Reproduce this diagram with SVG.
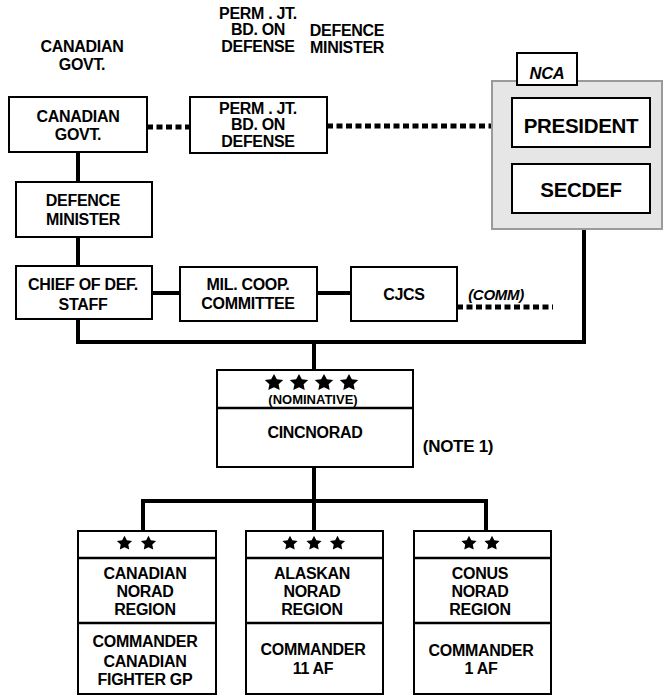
<svg xmlns="http://www.w3.org/2000/svg" width="663" height="696" viewBox="0 0 663 696">
<style>
.box{fill:#fff;stroke:#000;stroke-width:2}
.t{font-family:"Liberation Sans",Arial,sans-serif;font-weight:bold;font-size:16px;letter-spacing:-0.3px;text-anchor:middle;fill:#000}
.big{font-size:20.5px}
.it{font-style:italic}
.sm{font-size:13px;letter-spacing:0}
.solid{stroke:#000;stroke-width:4;fill:none}
.dot{stroke:#000;stroke-width:5;fill:none;stroke-dasharray:6 3.5}
.div{stroke:#000;stroke-width:2.5}
</style>
<defs>
<path id="star" d="M0,-10 L2.939,-4.045 L9.511,-3.09 L4.756,1.545 L5.878,8.09 L0,5 L-5.878,8.09 L-4.756,1.545 L-9.511,-3.09 L-2.939,-4.045 Z" fill="#000"/>
</defs>

<g id="labels">
<text class="t"><tspan x="82" y="52">CANADIAN</tspan><tspan x="82" y="70">GOVT.</tspan></text>
<text class="t"><tspan x="258" y="19">PERM . JT.</tspan><tspan x="258" y="35">BD. ON</tspan><tspan x="258" y="52">DEFENSE</tspan></text>
<text class="t"><tspan x="347" y="36">DEFENCE</tspan><tspan x="347" y="53">MINISTER</tspan></text>
</g>

<g id="connectors">
<line class="dot" x1="147" y1="127" x2="190" y2="127"/>
<line class="dot" x1="327" y1="126" x2="492" y2="126"/>
<line class="dot" x1="457" y1="307" x2="553" y2="307"/>
<line class="solid" x1="78" y1="152" x2="78" y2="182"/>
<line class="solid" x1="78" y1="237" x2="78" y2="266"/>
<polyline class="solid" points="78,319 78,342 584,342 584,229"/>
<line class="solid" x1="152" y1="293" x2="180" y2="293"/>
<line class="solid" x1="317" y1="293" x2="351" y2="293"/>
<line class="solid" x1="314" y1="342" x2="314" y2="370"/>
<line class="solid" x1="314" y1="467" x2="314" y2="531"/>
<polyline class="solid" points="143,531 143,501 486,501 486,531"/>
</g>

<g id="canadian-govt">
<rect class="box" x="9" y="97" width="138" height="55"/>
<text class="t"><tspan x="78" y="122">CANADIAN</tspan><tspan x="78" y="140">GOVT.</tspan></text>
</g>

<g id="perm-jt-bd">
<rect class="box" x="190" y="97" width="137" height="56"/>
<text class="t"><tspan x="258" y="114">PERM . JT.</tspan><tspan x="258" y="130">BD. ON</tspan><tspan x="258" y="147">DEFENSE</tspan></text>
</g>

<g id="nca">
<rect x="492" y="81" width="170" height="148" fill="#e6e6e6" stroke="#9a9a9a" stroke-width="2"/>
<rect class="box" x="517" y="53" width="60" height="32"/>
<text class="t it" style="font-size:16.5px" x="547" y="79">NCA</text>
</g>

<g id="president">
<rect class="box" x="512" y="98" width="138" height="49"/>
<text class="t big" x="581" y="133">PRESIDENT</text>
</g>

<g id="secdef">
<rect class="box" x="512" y="164" width="138" height="49"/>
<text class="t big" x="581" y="197">SECDEF</text>
</g>

<g id="defence-minister">
<rect class="box" x="16" y="182" width="136" height="55"/>
<text class="t"><tspan x="83" y="206">DEFENCE</tspan><tspan x="83" y="225">MINISTER</tspan></text>
</g>

<g id="chief-of-def-staff">
<rect class="box" x="16" y="266" width="136" height="53"/>
<text class="t"><tspan x="83" y="290">CHIEF OF DEF.</tspan><tspan x="83" y="310">STAFF</tspan></text>
</g>

<g id="mil-coop-committee">
<rect class="box" x="180" y="267" width="137" height="54"/>
<text class="t"><tspan x="248" y="290">MIL. COOP.</tspan><tspan x="248" y="309">COMMITTEE</tspan></text>
</g>

<g id="cjcs">
<rect class="box" x="351" y="267" width="106" height="54"/>
<text class="t" x="404" y="300">CJCS</text>
<text class="t it" x="496" y="300" style="font-size:15px">(COMM)</text>
</g>

<g id="cincnorad">
<rect class="box" x="217" y="370" width="196" height="97"/>
<line class="div" x1="217" y1="408" x2="413" y2="408"/>
<use href="#star" transform="translate(274,382.8) scale(0.97,0.88)"/>
<use href="#star" transform="translate(299,382.8) scale(0.97,0.88)"/>
<use href="#star" transform="translate(324,382.8) scale(0.97,0.88)"/>
<use href="#star" transform="translate(349,382.8) scale(0.97,0.88)"/>
<text class="t sm" x="313" y="404">(NOMINATIVE)</text>
<text class="t" x="315" y="438">CINCNORAD</text>
<text class="t" style="font-size:17px" x="458" y="452">(NOTE 1)</text>
</g>

<g id="canadian-norad-region">
<rect class="box" x="78" y="531" width="138" height="163"/>
<line class="div" x1="78" y1="558" x2="216" y2="558"/>
<line class="div" x1="78" y1="623" x2="216" y2="623"/>
<use href="#star" transform="translate(124.5,543.4) scale(0.8,0.76)"/>
<use href="#star" transform="translate(148.5,543.4) scale(0.8,0.76)"/>
<text class="t"><tspan x="145" y="579">CANADIAN</tspan><tspan x="145" y="597">NORAD</tspan><tspan x="145" y="615">REGION</tspan></text>
<text class="t"><tspan x="145" y="647">COMMANDER</tspan><tspan x="145" y="667">CANADIAN</tspan><tspan x="145" y="685">FIGHTER GP</tspan></text>
</g>

<g id="alaskan-norad-region">
<rect class="box" x="246" y="531" width="137" height="163"/>
<line class="div" x1="246" y1="558" x2="383" y2="558"/>
<line class="div" x1="246" y1="623" x2="383" y2="623"/>
<use href="#star" transform="translate(290,543.4) scale(0.8,0.76)"/>
<use href="#star" transform="translate(314,543.4) scale(0.8,0.76)"/>
<use href="#star" transform="translate(337.5,543.4) scale(0.8,0.76)"/>
<text class="t"><tspan x="312" y="579">ALASKAN</tspan><tspan x="312" y="597">NORAD</tspan><tspan x="312" y="615">REGION</tspan></text>
<text class="t"><tspan x="313" y="655">COMMANDER</tspan><tspan x="313" y="674">11 AF</tspan></text>
</g>

<g id="conus-norad-region">
<rect class="box" x="414" y="531" width="137" height="163"/>
<line class="div" x1="414" y1="558" x2="551" y2="558"/>
<line class="div" x1="414" y1="623" x2="551" y2="623"/>
<use href="#star" transform="translate(469,543.4) scale(0.8,0.76)"/>
<use href="#star" transform="translate(492,543.4) scale(0.8,0.76)"/>
<text class="t"><tspan x="480" y="579">CONUS</tspan><tspan x="480" y="597">NORAD</tspan><tspan x="480" y="615">REGION</tspan></text>
<text class="t"><tspan x="481" y="656">COMMANDER</tspan><tspan x="481" y="674">1 AF</tspan></text>
</g>
</svg>
